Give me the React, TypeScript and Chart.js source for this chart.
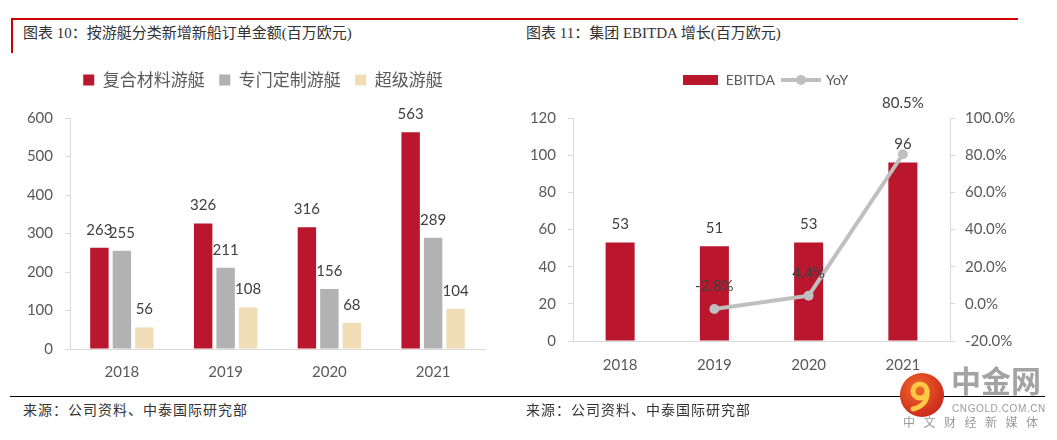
import React, { useEffect, useRef } from "react";
import { Chart, registerables } from "chart.js";

Chart.register(...registerables);

// ---- data ----
const years = ["2018", "2019", "2020", "2021"];
const compositeYachts = [263, 326, 316, 563];
const madeToMeasureYachts = [255, 211, 156, 289];
const superYachts = [56, 108, 68, 104];
const leftSeriesNames = ["复合材料游艇", "专门定制游艇", "超级游艇"];

const ebitda = [53, 51, 53, 96];
const yoy: (number | null)[] = [null, -2.8, 4.4, 80.5];
const rightSeriesNames = ["EBITDA", "YoY"];

const TICK_COLOR = "#595959";
const AXIS_COLOR = "#D9D9D9";
const LABEL_COLOR = "#404040";
const RED = "#BA172E";
const GRAY = "#B2B2B2";
const BEIGE = "#F0DDB6";
const LINE_GRAY = "#BFBFBF";
const NUM_FONT = "Lato, 'Liberation Sans', sans-serif";
const CJK_FONT = "'Noto Sans CJK SC', 'Noto Sans', sans-serif";

function legendHeightPlugin(h: number) {
  return {
    id: "legendHeight",
    afterInit(chart: any) {
      const legend = chart.legend;
      if (!legend) return;
      const orig = legend.fit;
      legend.fit = function () {
        orig.call(this);
        this.height = h;
      };
    },
  };
}

function valueLabelPlugin(cfg: {
  font: string;
  color: string;
  offset: (di: number, i: number) => number;
  format: (v: number, di: number) => string;
}) {
  return {
    id: "valueLabels",
    afterDatasetsDraw(chart: any) {
      const ctx = chart.ctx;
      ctx.save();
      ctx.font = cfg.font;
      ctx.fillStyle = cfg.color;
      ctx.textAlign = "center";
      ctx.textBaseline = "middle";
      chart.data.datasets.forEach((ds: any, di: number) => {
        const meta = chart.getDatasetMeta(di);
        meta.data.forEach((el: any, i: number) => {
          const v = ds.data[i];
          if (v === null || v === undefined) return;
          ctx.fillText(cfg.format(v, di), el.x, el.y - cfg.offset(di, i));
        });
      });
      ctx.restore();
    },
  };
}

export default function App() {
  const leftRef = useRef<HTMLCanvasElement>(null);
  const rightRef = useRef<HTMLCanvasElement>(null);

  useEffect(() => {
    document.body.style.margin = "0";

    const tickFont = { family: NUM_FONT, size: 15 };

    const left = new Chart(leftRef.current as HTMLCanvasElement, {
      type: "bar",
      data: {
        labels: years,
        datasets: [
          { label: leftSeriesNames[0], data: compositeYachts, backgroundColor: RED, borderWidth: 0 },
          { label: leftSeriesNames[1], data: madeToMeasureYachts, backgroundColor: GRAY, borderWidth: 0 },
          { label: leftSeriesNames[2], data: superYachts, backgroundColor: BEIGE, borderWidth: 0 },
        ],
      },
      options: {
        responsive: false,
        animation: false,
        layout: { padding: { top: 0, right: 0, bottom: 0, left: 0 } },
        datasets: { bar: { categoryPercentage: 0.65, barPercentage: 0.82 } },
        plugins: {
          legend: {
            display: true,
            position: "top",
            labels: {
              boxWidth: 11,
              boxHeight: 11,
              padding: 14.5,
              color: TICK_COLOR,
              font: { family: CJK_FONT, size: 17 },
            },
          },
          tooltip: { enabled: false },
        },
        scales: {
          x: {
            grid: { display: false },
            border: { display: true, color: AXIS_COLOR },
            ticks: { padding: 6, color: TICK_COLOR, font: tickFont },
            afterFit: (s: any) => {
              s.height = 43;
            },
          },
          y: {
            min: 0,
            max: 600,
            ticks: { stepSize: 100, padding: 12, color: TICK_COLOR, font: tickFont },
            grid: { display: true, drawOnChartArea: false, drawTicks: true, tickLength: 5, color: AXIS_COLOR },
            border: { display: true, color: AXIS_COLOR },
            afterFit: (s: any) => {
              s.width = 60;
            },
          },
          // invisible spacer axis that reserves room on the right
          spacer: {
            position: "right",
            display: true,
            ticks: { display: false },
            grid: { display: false },
            border: { display: false },
            afterFit: (s: any) => {
              s.width = 31;
            },
          },
        },
      } as any,
      plugins: [
        legendHeightPlugin(61),
        valueLabelPlugin({
          font: `15px ${NUM_FONT}`,
          color: LABEL_COLOR,
          offset: () => 18,
          format: (v) => String(v),
        }),
      ],
    });

    // legend marker images for the right chart
    const rectImg = document.createElement("canvas");
    rectImg.width = 35;
    rectImg.height = 10;
    {
      const c = rectImg.getContext("2d")!;
      c.fillStyle = RED;
      c.fillRect(0, 0, 35, 10);
    }
    const lineImg = document.createElement("canvas");
    lineImg.width = 40;
    lineImg.height = 12;
    {
      const c = lineImg.getContext("2d")!;
      c.strokeStyle = LINE_GRAY;
      c.lineWidth = 4;
      c.beginPath();
      c.moveTo(0, 6);
      c.lineTo(40, 6);
      c.stroke();
      c.fillStyle = LINE_GRAY;
      c.beginPath();
      c.arc(20, 6, 5, 0, Math.PI * 2);
      c.fill();
    }

    const right = new Chart(rightRef.current as HTMLCanvasElement, {
      type: "bar",
      data: {
        labels: years,
        datasets: [
          {
            type: "bar",
            label: rightSeriesNames[0],
            data: ebitda,
            backgroundColor: RED,
            borderWidth: 0,
            yAxisID: "y",
            order: 1,
            categoryPercentage: 0.8,
            barPercentage: 0.385,
          },
          {
            type: "line",
            label: rightSeriesNames[1],
            data: yoy,
            borderColor: LINE_GRAY,
            backgroundColor: LINE_GRAY,
            borderWidth: 4,
            pointRadius: 5,
            pointBorderWidth: 0,
            pointBackgroundColor: LINE_GRAY,
            yAxisID: "y2",
            order: 0,
            tension: 0,
          },
        ],
      },
      options: {
        responsive: false,
        animation: false,
        layout: { padding: { top: 8, right: 0, bottom: 0, left: 0 } },
        plugins: {
          legend: {
            display: true,
            position: "top",
            labels: {
              usePointStyle: true,
              pointStyleWidth: 36,
              padding: 8,
              color: TICK_COLOR,
              font: { family: NUM_FONT, size: 14 },
              generateLabels: () => [
                {
                  text: rightSeriesNames[0],
                  pointStyle: rectImg,
                  fillStyle: RED,
                  strokeStyle: RED,
                  lineWidth: 0,
                  hidden: false,
                  datasetIndex: 0,
                  fontColor: TICK_COLOR,
                },
                {
                  text: rightSeriesNames[1],
                  pointStyle: lineImg,
                  fillStyle: LINE_GRAY,
                  strokeStyle: LINE_GRAY,
                  lineWidth: 0,
                  hidden: false,
                  datasetIndex: 1,
                  fontColor: TICK_COLOR,
                },
              ],
            },
          },
          tooltip: { enabled: false },
        },
        scales: {
          x: {
            grid: { display: false },
            border: { display: true, color: AXIS_COLOR },
            ticks: { padding: 7, color: TICK_COLOR, font: tickFont },
            afterFit: (s: any) => {
              s.height = 51;
            },
          },
          y: {
            position: "left",
            min: 0,
            max: 120,
            ticks: { stepSize: 20, padding: 12, color: TICK_COLOR, font: tickFont },
            grid: { display: true, drawOnChartArea: false, drawTicks: true, tickLength: 5, color: AXIS_COLOR },
            border: { display: true, color: AXIS_COLOR },
            afterFit: (s: any) => {
              s.width = 58;
            },
          },
          y2: {
            position: "right",
            min: -20,
            max: 100,
            ticks: {
              stepSize: 20,
              padding: 10,
              color: TICK_COLOR,
              font: tickFont,
              callback: (v: any) => Number(v).toFixed(1) + "%",
            },
            grid: { display: true, drawOnChartArea: false, drawTicks: true, tickLength: 5, color: AXIS_COLOR },
            border: { display: true, color: AXIS_COLOR },
            afterFit: (s: any) => {
              s.width = 66;
            },
          },
        },
      } as any,
      plugins: [
        legendHeightPlugin(53),
        valueLabelPlugin({
          font: `15px ${NUM_FONT}`,
          color: LABEL_COLOR,
          offset: (di, i) => (di === 0 ? 18 : i === 3 ? 51 : 23),
          format: (v, di) => (di === 1 ? v.toFixed(1) + "%" : String(v)),
        }),
      ],
    });

    return () => {
      left.destroy();
      right.destroy();
    };
  }, []);

  const titleStyle: React.CSSProperties = {
    position: "absolute",
    top: 24,
    fontFamily: "'Liberation Serif', 'DejaVu Serif', 'Noto Sans CJK SC', serif",
    fontSize: 15,
    color: "#333",
    whiteSpace: "nowrap",
    lineHeight: "18px",
  };
  const sourceStyle: React.CSSProperties = {
    position: "absolute",
    top: 400,
    fontFamily: CJK_FONT,
    fontSize: 14,
    letterSpacing: 1,
    color: "#333",
    whiteSpace: "nowrap",
    lineHeight: "18px",
  };

  return (
    <div
      style={{
        position: "absolute",
        left: 0,
        top: 0,
        width: 1057,
        height: 440,
        background: "#fff",
        overflow: "hidden",
      }}
    >
      {/* red header rule */}
      <div style={{ position: "absolute", left: 11, top: 18, width: 1007, height: 2, background: "#CC0000" }} />
      <div style={{ position: "absolute", left: 11, top: 18, width: 2, height: 35, background: "#CC0000" }} />
      <div style={{ ...titleStyle, left: 23 }}>图表 10：按游艇分类新增新船订单金额(百万欧元)</div>
      <div style={{ ...titleStyle, left: 526 }}>图表 11：集团 EBITDA 增长(百万欧元)</div>

      <canvas ref={leftRef} width={506} height={335} style={{ position: "absolute", left: 10, top: 57 }} />
      <canvas ref={rightRef} width={501} height={335} style={{ position: "absolute", left: 515, top: 57 }} />

      {/* bottom rule */}
      <div style={{ position: "absolute", left: 10, top: 396, width: 1035, height: 1, background: "#000" }} />
      <div style={{ ...sourceStyle, left: 23 }}>来源：公司资料、中泰国际研究部</div>
      <div style={{ ...sourceStyle, left: 526 }}>来源：公司资料、中泰国际研究部</div>

      {/* watermark */}
      <svg
        width={46}
        height={46}
        viewBox="0 0 46 46"
        style={{ position: "absolute", left: 899, top: 372 }}
      >
        <defs>
          <radialGradient id="wmg" cx="40%" cy="35%" r="70%">
            <stop offset="0%" stopColor="#F06A2A" />
            <stop offset="100%" stopColor="#C9261B" />
          </radialGradient>
        </defs>
        <circle cx={23} cy={23} r={22} fill="url(#wmg)" />
        <circle cx={21} cy={19} r={7} fill="none" stroke="#FFC845" strokeWidth={5} />
        <path d="M28 19 C29 29 23 35 14 37" fill="none" stroke="#FFC845" strokeWidth={5} strokeLinecap="round" />
      </svg>
      <div
        style={{
          position: "absolute",
          left: 951,
          top: 362,
          fontFamily: CJK_FONT,
          fontWeight: 700,
          fontSize: 30,
          lineHeight: "34px",
          color: "#A3A3A3",
          whiteSpace: "nowrap",
        }}
      >
        中金网
      </div>
      <div
        style={{
          position: "absolute",
          left: 952,
          top: 403,
          fontFamily: "'Liberation Sans', sans-serif",
          fontSize: 10,
          letterSpacing: 0.6,
          lineHeight: "12px",
          color: "#9A9A9A",
          whiteSpace: "nowrap",
        }}
      >
        CNGOLD.COM.CN
      </div>
      <div
        style={{
          position: "absolute",
          left: 903,
          top: 415,
          fontFamily: CJK_FONT,
          fontSize: 12,
          letterSpacing: 8.5,
          lineHeight: "14px",
          color: "#9A9A9A",
          whiteSpace: "nowrap",
        }}
      >
        中文财经新媒体
      </div>
    </div>
  );
}
